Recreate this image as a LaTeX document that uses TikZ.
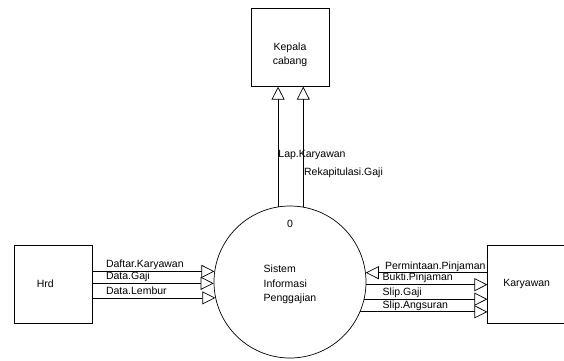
\documentclass[tikz,border=0pt]{standalone}
\usepackage{fontspec}
\setmainfont{Liberation Sans}
\usetikzlibrary{arrows.meta, positioning}

\begin{document}
\begin{tikzpicture}[x=1pt, y=-1pt,
    font=\fontsize{10.5}{14.5}\selectfont,
    entity/.style={draw, line width=0.7pt, minimum width=78pt,
        minimum height=78pt, inner sep=0pt},
    process/.style={draw, circle, line width=0.7pt, minimum size=152pt,
        inner sep=0pt},
    flow/.style={line width=0.7pt,
        -{Triangle[open, length=13pt, width=13pt, line width=0.7pt]}},
    lbl/.style={inner sep=0pt}]
    \useasboundingbox (0,0) rectangle (564,360);
    % the process
    \node[process, align=left, text height=42pt,
          label={[label distance=-25pt]90:0}
          ] (proc) at (290,282) {Sistem\\Informasi\\Penggajian};
    % the entities
    \node[entity,
          left=121pt of proc, yshift=-2pt,
          align=left, text width=33pt, inner xsep=22.5pt
          ] (hrd) {Hrd};
    \node[entity,
          right=121pt of proc, yshift=-2pt
          ] (karyawan) {Karyawan};
    \node[entity,
          above=119pt of proc,
          align=center, text height=37pt
          ] (kepala) {Kepala\\cabang};

    % Hrd to the system
    \draw[flow] (hrd.east |- proc.172.4)
        -- node[lbl, pos=0, anchor=base west, xshift=13pt, yshift=3.7pt] {Daftar.Karyawan} (proc.172.4);
    \draw[flow] (hrd.east |- proc.181.5)
        -- node[lbl, pos=0, anchor=base west, xshift=13pt, yshift=3.7pt] {Data.Gaji} (proc.181.5);
    \draw[flow] (hrd.east |- proc.192.2)
        -- node[lbl, pos=0, anchor=base west, xshift=13pt, yshift=3.7pt] {Data.Lembur} (proc.192.2);

    % Karyawan and the system
    \draw[flow] (karyawan.west |- proc.7.6)
        -- node[lbl, pos=0, anchor=base east, xshift=-1.5pt, yshift=3.7pt] {Permintaan.Pinjaman} (proc.7.6);
    \draw[flow] (proc.358.5)
        -- node[lbl, pos=1, anchor=base west, xshift=-105pt, yshift=3.7pt] {Bukti.Pinjaman} (karyawan.west |- proc.358.5);
    \draw[flow] (proc.347.8)
        -- node[lbl, pos=1, anchor=base west, xshift=-105pt, yshift=3.7pt] {Slip.Gaji} (karyawan.west |- proc.347.8);
    \draw[flow] (proc.337.6)
        -- node[lbl, pos=1, anchor=base west, xshift=-105pt, yshift=3.7pt] {Slip.Angsuran} (karyawan.west |- proc.337.6);

    % the system to Kepala cabang
    \draw[flow] (proc.99.8)
        -- node[lbl, pos=0.41, anchor=base west] {Lap.Karyawan} (proc.99.8 |- kepala.south);
    \draw[flow] (proc.80.2)
        -- node[lbl, pos=0.26, anchor=base west, xshift=0.5pt] {Rekapitulasi.Gaji} (proc.80.2 |- kepala.south);
\end{tikzpicture}
\end{document}
